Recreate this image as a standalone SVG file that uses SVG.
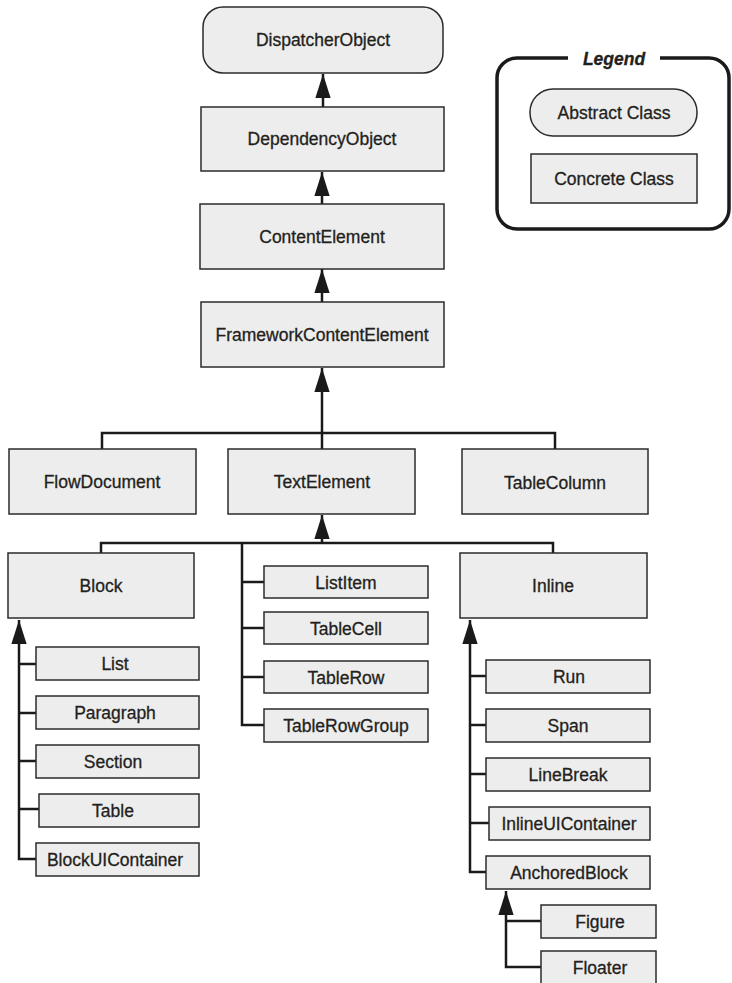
<svg xmlns="http://www.w3.org/2000/svg" width="732" height="983" viewBox="0 0 732 983">
<style>
.box{fill:#ededed;stroke:#2b2b2b;stroke-width:1.5}
.t{font-family:"Liberation Sans Narrow","Liberation Sans",Arial,sans-serif;font-size:17.5px;fill:#231f20;stroke:#231f20;stroke-width:0.3;text-anchor:middle}
.c{fill:none;stroke:#1a1a1a;stroke-width:2.5}
.lg{fill:none;stroke:#1a1a1a;stroke-width:3.5}
</style>
<defs>
<marker id="tri" markerUnits="userSpaceOnUse" markerWidth="24" markerHeight="16" viewBox="0 0 22 14" refX="22" refY="7" orient="auto">
<path d="M0,0 L22,7 L0,14 Z" fill="#1a1a1a"/>
</marker>
</defs>
<rect width="732" height="983" fill="#fff"/>
<g id="connectors">
<line class="c" x1="323" y1="107" x2="323" y2="74" marker-end="url(#tri)"/>
<line class="c" x1="322" y1="204" x2="322" y2="172" marker-end="url(#tri)"/>
<line class="c" x1="322" y1="302" x2="322" y2="269" marker-end="url(#tri)"/>
<line class="c" x1="322" y1="449" x2="322" y2="368" marker-end="url(#tri)"/>
<polyline class="c" points="102,449 102,433 555,433 555,449"/>
<line class="c" x1="322" y1="543" x2="322" y2="515" marker-end="url(#tri)"/>
<polyline class="c" points="101,553 101,543 553,543 553,553"/>
<polyline class="c" points="242,543 242,725 264,725"/>
<line class="c" x1="242" y1="582" x2="264" y2="582"/>
<line class="c" x1="242" y1="628" x2="264" y2="628"/>
<line class="c" x1="242" y1="677" x2="264" y2="677"/>
<polyline class="c" points="36,859 19,859 19,620" marker-end="url(#tri)"/>
<line class="c" x1="19" y1="664" x2="36" y2="664"/>
<line class="c" x1="19" y1="713" x2="36" y2="713"/>
<line class="c" x1="19" y1="761" x2="36" y2="761"/>
<line class="c" x1="19" y1="809" x2="39" y2="809"/>
<polyline class="c" points="486,872 470,872 470,620" marker-end="url(#tri)"/>
<line class="c" x1="470" y1="676" x2="486" y2="676"/>
<line class="c" x1="470" y1="725" x2="486" y2="725"/>
<line class="c" x1="470" y1="774" x2="486" y2="774"/>
<line class="c" x1="470" y1="823" x2="489" y2="823"/>
<polyline class="c" points="541,967 506,967 506,891" marker-end="url(#tri)"/>
<line class="c" x1="506" y1="921" x2="541" y2="921"/>
</g>
<g id="DispatcherObject"><rect class="box" x="203" y="7" width="240" height="66" rx="20"/><text class="t" x="323" y="46">DispatcherObject</text></g>
<g id="DependencyObject"><rect class="box" x="201" y="107" width="243" height="64"/><text class="t" x="322" y="145">DependencyObject</text></g>
<g id="ContentElement"><rect class="box" x="200" y="204" width="244" height="65"/><text class="t" x="322" y="243">ContentElement</text></g>
<g id="FrameworkContentElement"><rect class="box" x="201" y="302" width="243" height="65"/><text class="t" x="322" y="341">FrameworkContentElement</text></g>
<g id="FlowDocument"><rect class="box" x="9" y="449" width="187" height="65"/><text class="t" x="102" y="488">FlowDocument</text></g>
<g id="TextElement"><rect class="box" x="228" y="449" width="187" height="65"/><text class="t" x="322" y="488">TextElement</text></g>
<g id="TableColumn"><rect class="box" x="462" y="449" width="186" height="65"/><text class="t" x="555" y="489">TableColumn</text></g>
<g id="Block"><rect class="box" x="8" y="553" width="186" height="65"/><text class="t" x="101" y="592">Block</text></g>
<g id="Inline"><rect class="box" x="460" y="553" width="187" height="65"/><text class="t" x="553" y="592">Inline</text></g>
<g id="List"><rect class="box" x="36" y="647" width="163" height="33"/><text class="t" x="115" y="670">List</text></g>
<g id="Paragraph"><rect class="box" x="36" y="696" width="163" height="33"/><text class="t" x="115" y="719">Paragraph</text></g>
<g id="Section"><rect class="box" x="36" y="745" width="163" height="33"/><text class="t" x="113" y="768">Section</text></g>
<g id="Table"><rect class="box" x="39" y="794" width="160" height="33"/><text class="t" x="113" y="817">Table</text></g>
<g id="BlockUIContainer"><rect class="box" x="36" y="843" width="163" height="33"/><text class="t" x="115" y="866">BlockUIContainer</text></g>
<g id="ListItem"><rect class="box" x="264" y="566" width="164" height="32"/><text class="t" x="346" y="589">ListItem</text></g>
<g id="TableCell"><rect class="box" x="264" y="612" width="164" height="32"/><text class="t" x="346" y="635">TableCell</text></g>
<g id="TableRow"><rect class="box" x="264" y="661" width="164" height="32"/><text class="t" x="346" y="684">TableRow</text></g>
<g id="TableRowGroup"><rect class="box" x="264" y="709" width="164" height="33"/><text class="t" x="346" y="732">TableRowGroup</text></g>
<g id="Run"><rect class="box" x="486" y="660" width="164" height="33"/><text class="t" x="569" y="683">Run</text></g>
<g id="Span"><rect class="box" x="486" y="709" width="164" height="33"/><text class="t" x="568" y="732">Span</text></g>
<g id="LineBreak"><rect class="box" x="486" y="758" width="164" height="33"/><text class="t" x="568" y="781">LineBreak</text></g>
<g id="InlineUIContainer"><rect class="box" x="489" y="807" width="161" height="33"/><text class="t" x="569" y="830">InlineUIContainer</text></g>
<g id="AnchoredBlock"><rect class="box" x="486" y="856" width="164" height="33"/><text class="t" x="569" y="879">AnchoredBlock</text></g>
<g id="Figure"><rect class="box" x="541" y="905" width="115" height="33"/><text class="t" x="600" y="928">Figure</text></g>
<g id="Floater"><rect class="box" x="541" y="951" width="115" height="34"/><text class="t" x="600" y="974">Floater</text></g>
<g id="legend">
<path class="lg" d="M568,58 H517 A20,20 0 0 0 497,78 V209 A20,20 0 0 0 517,229 H709 A20,20 0 0 0 729,209 V78 A20,20 0 0 0 709,58 H660"/>
<text class="t" x="614" y="65" font-weight="bold" font-style="italic" stroke-width="0">Legend</text>
<rect class="box" x="530" y="89" width="167" height="47" rx="23"/>
<text class="t" x="614" y="119">Abstract Class</text>
<rect class="box" x="531" y="154" width="166" height="49"/>
<text class="t" x="614" y="185">Concrete Class</text>
</g>
</svg>
